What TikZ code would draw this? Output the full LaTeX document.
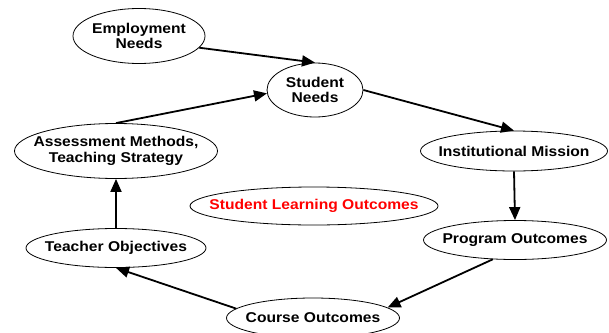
\documentclass[tikz,border=0pt]{standalone}
\usepackage{fontspec}
\setmainfont{Liberation Sans}[FakeStretch=1.1]
\usetikzlibrary{shapes.geometric,arrows.meta}
\tikzset{
  oval/.style={ellipse, draw, line width=0.8pt, inner sep=0pt},
  lbl/.style={align=center, inner sep=0pt, font=\fontsize{14.2}{15.5}\selectfont\bfseries},
  flow/.style={line width=1.8pt, -{Triangle[length=13pt,width=11pt]}}
}
\begin{document}
\begin{tikzpicture}[x=1pt,y=-1pt]
\useasboundingbox (0,0) rectangle (609,332);
\node[oval, minimum width=132pt, minimum height=55pt] (emp) at (139,36) {};
\node[oval, minimum width=96pt, minimum height=54pt] (stu) at (315,90) {};
\node[oval, minimum width=187pt, minimum height=40pt] (inst) at (514,151) {};
\node[oval, minimum width=183pt, minimum height=39pt] (prog) at (515,240) {};
\node[oval, minimum width=173pt, minimum height=40pt] (course) at (313,318) {};
\node[oval, minimum width=180pt, minimum height=39pt] (teach) at (116,248) {};
\node[oval, minimum width=203pt, minimum height=55pt] (assess) at (116,151) {};
\node[oval, minimum width=248pt, minimum height=38pt] (slo) at (314,206) {};
\node[lbl] (empt) at (emp) {Employment\\Needs};
\node[lbl] (stut) at (stu) {Student\\Needs};
\node[lbl] (instt) at (inst) {Institutional Mission};
\node[lbl] (progt) at (prog) {Program Outcomes};
\node[lbl] (courset) at (course) {Course Outcomes};
\node[lbl] (teacht) at (teach) {Teacher Objectives};
\node[lbl] (assesst) at (assess) {Assessment Methods,\\Teaching Strategy};
\node[lbl, text=red] (slot) at (slo) {Student Learning Outcomes};
\draw[flow] (emp.-11) -- (stu.north);
\draw[flow] (assess.north) -- (stu.184);
\draw[flow] (stu.east) -- (inst.north);
\draw[flow] (inst.south) -- (prog.north);
\draw[flow] (prog.221) -- (course.8);
\draw[flow] (course.173) -- (teach.south);
\draw[flow] (teach.north) -- (assess.south);
\end{tikzpicture}
\end{document}
